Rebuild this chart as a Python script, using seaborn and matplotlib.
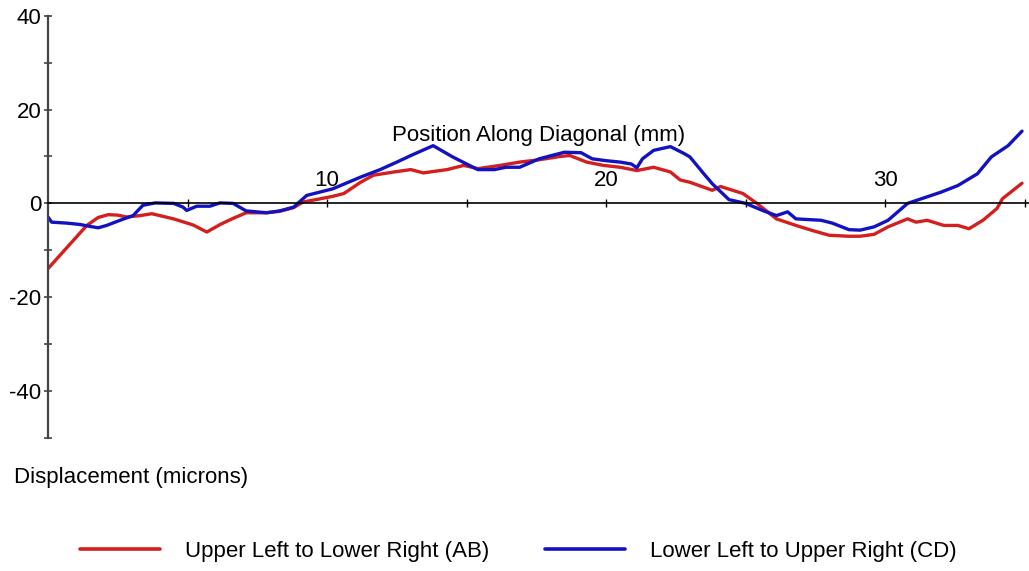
import numpy as np
import pandas as pd
import matplotlib
matplotlib.use("Agg")
import matplotlib.pyplot as plt
from matplotlib.lines import Line2D
import seaborn as sns

# Diagonal profile: position (mm) and displacement (microns)
ab_pos = [0, 1.39, 1.8, 2.16, 2.5, 2.82, 3.3, 3.72, 4.5, 5.2, 5.69, 6.2, 6.63, 7.1,
          7.8, 8.3, 8.8, 9.14, 9.6, 10.2, 10.6, 11.2, 11.66, 12.4, 13.0, 13.45, 14.3,
          14.9, 15.4, 16.2, 16.9, 17.6, 18.35, 18.7, 19.3, 19.9, 20.5, 21.1, 21.7,
          22.3, 22.65, 23.0, 23.8, 24.1, 24.9, 25.4, 26.1, 26.8, 27.4, 28.0, 28.7,
          29.1, 29.6, 30.1, 30.8, 31.1, 31.5, 32.1, 32.6, 33.0, 33.5, 34.0, 34.2, 34.9]
ab_disp = [-13.9, -4.7, -3.0, -2.4, -2.5, -2.9, -2.6, -2.2, -3.3, -4.6, -6.1, -4.4,
           -3.2, -2.0, -2.0, -1.7, -0.9, 0.3, 0.8, 1.5, 2.1, 4.5, 6.0, 6.7, 7.2, 6.5,
           7.2, 8.1, 7.4, 8.1, 8.8, 9.3, 10.0, 10.2, 8.8, 8.1, 7.7, 7.0, 7.7, 6.7, 5.0,
           4.5, 2.8, 3.6, 2.1, 0.0, -3.3, -4.7, -5.8, -6.8, -7.0, -7.0, -6.6, -5.0,
           -3.3, -4.0, -3.6, -4.7, -4.7, -5.4, -3.6, -1.1, 1.0, 4.3]

cd_pos = [0, 0.13, 0.67, 1.15, 1.5, 1.8, 2.1, 2.58, 3.05, 3.4, 3.84, 4.5, 4.84, 4.97,
          5.33, 5.8, 6.16, 6.63, 7.1, 7.84, 8.3, 8.8, 9.27, 10.2, 11.2, 11.9, 12.5,
          13.0, 13.8, 14.5, 15.4, 16.0, 16.4, 16.9, 17.6, 18.5, 19.1, 19.5, 20.0,
          20.5, 20.9, 21.1, 21.3, 21.7, 22.3, 22.8, 23.0, 23.5, 23.8, 24.4, 25.0,
          25.6, 26.1, 26.5, 26.8, 27.7, 28.1, 28.7, 29.1, 29.6, 30.1, 30.8, 31.4,
          32.0, 32.6, 33.3, 33.8, 34.4, 34.9]
cd_disp = [-2.9, -4.0, -4.2, -4.5, -4.9, -5.2, -4.7, -3.6, -2.6, -0.4, 0.1, 0.0, -0.8,
           -1.5, -0.6, -0.6, 0.1, 0.0, -1.6, -2.0, -1.6, -0.8, 1.7, 3.1, 5.6, 7.2, 8.8,
           10.2, 12.3, 9.9, 7.2, 7.2, 7.7, 7.7, 9.5, 10.9, 10.8, 9.5, 9.1, 8.8, 8.4,
           7.6, 9.5, 11.3, 12.1, 10.6, 9.9, 6.3, 4.2, 0.8, 0.0, -1.5, -2.6, -1.8, -3.3,
           -3.6, -4.2, -5.6, -5.7, -5.0, -3.6, 0.0, 1.2, 2.4, 3.8, 6.3, 9.9, 12.3, 15.4]

series_names = ["Upper Left to Lower Right (AB)", "Lower Left to Upper Right (CD)"]
series_colors = ["#d41f1f", "#1212c2"]

x_ticks = [5, 10, 15, 20, 25, 30, 35]
x_tick_labels = ["", "10", "", "20", "", "30", ""]
y_ticks = [-50, -40, -30, -20, -10, 0, 10, 20, 30, 40]
y_tick_labels = ["", "-40", "", "-20", "", "0", "", "20", "", "40"]

df = pd.concat([
    pd.DataFrame({"pos": ab_pos, "disp": ab_disp, "series": series_names[0]}),
    pd.DataFrame({"pos": cd_pos, "disp": cd_disp, "series": series_names[1]}),
], ignore_index=True)

sns.set_style("white")
plt.rcParams["font.family"] = ["Liberation Sans", "DejaVu Sans"]
plt.rcParams["text.color"] = "black"

FS = 16

fig = plt.figure(figsize=(10.29, 5.71), dpi=100)
ax = fig.add_axes([48 / 1029, 1 - 438 / 571, 981 / 1029, (438 - 15.7) / 571])

sns.lineplot(data=df, x="pos", y="disp", hue="series", hue_order=series_names,
             palette=series_colors, estimator=None, sort=False, linewidth=2.4,
             legend=False, ax=ax)

ax.set_xlim(0, 35.15)
ax.set_ylim(-50, 40)
ax.set_xlabel("")
ax.set_ylabel("")

for side in ["top", "right"]:
    ax.spines[side].set_visible(False)
ax.spines["bottom"].set_position(("data", 0))
ax.spines["bottom"].set_color("black")
ax.spines["bottom"].set_linewidth(1.2)
ax.spines["left"].set_color("#444444")
ax.spines["left"].set_linewidth(1.6)

ax.set_xticks(x_ticks)
ax.set_xticklabels(x_tick_labels)
ax.set_yticks(y_ticks)
ax.set_yticklabels(y_tick_labels)
ax.tick_params(axis="x", bottom=True, direction="inout", length=5.5, width=1.0,
               colors="black", labelsize=FS, pad=-27)
ax.tick_params(axis="y", left=True, direction="inout", length=5.5, width=1.2,
               colors="#444444", labelcolor="black", labelsize=FS, pad=2)

ax.text(0.5, 0.717, "Position Along Diagonal (mm)", transform=ax.transAxes,
        ha="center", va="center", fontsize=FS, color="black")

fig.text(14 / 1029, 1 - 477 / 571, "Displacement (microns)", ha="left", va="center",
         fontsize=FS, color="black")

handles = [Line2D([], [], color=c, linewidth=2.6) for c in series_colors]
leg = fig.legend(handles, series_names, loc="center left",
                 bbox_to_anchor=(80 / 1029, 1 - 551 / 571), ncol=2, frameon=False,
                 fontsize=FS, handlelength=3.6, handletextpad=1.13, columnspacing=2.5,
                 borderpad=0, borderaxespad=0)
for t in leg.get_texts():
    t.set_color("black")

fig.savefig("out.png", dpi=100)
